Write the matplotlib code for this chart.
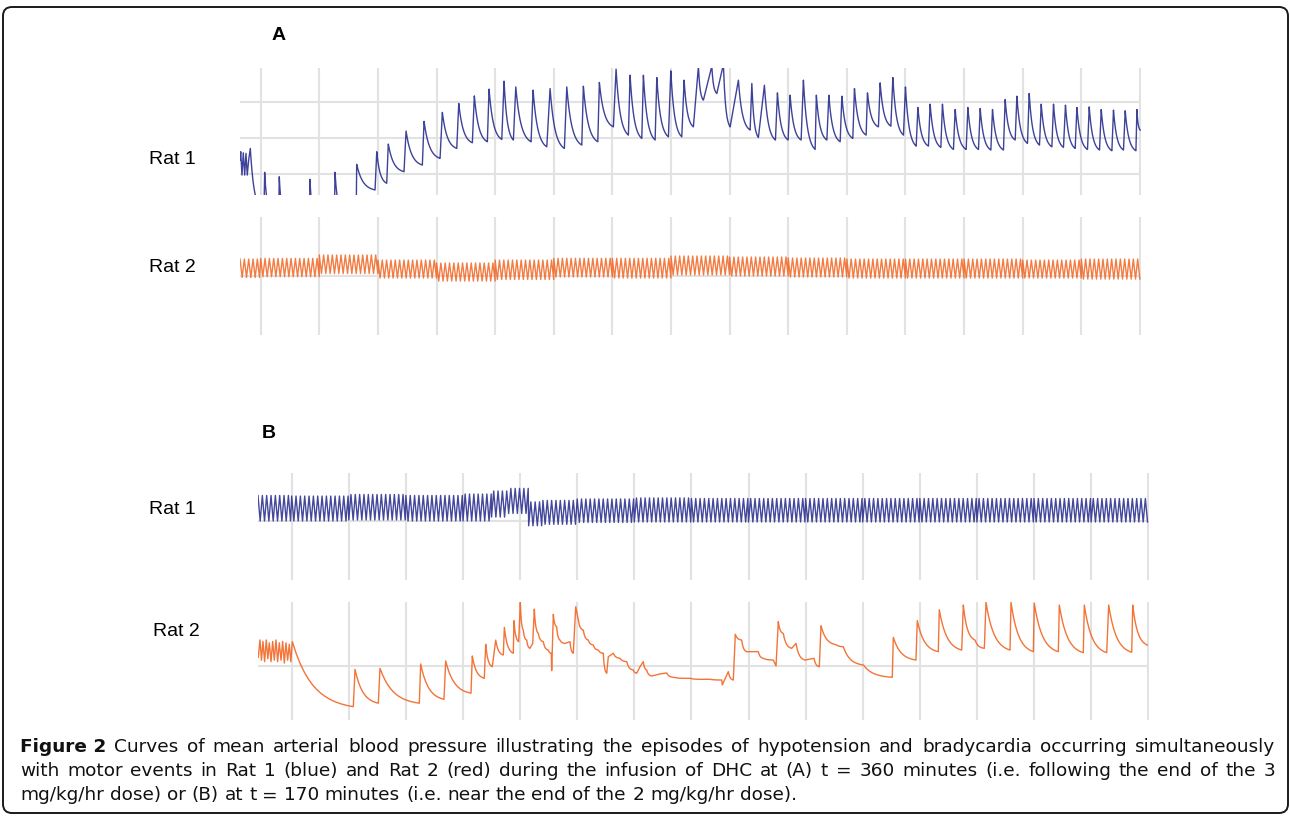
import numpy as np
import matplotlib.pyplot as plt
from matplotlib.patches import FancyBboxPatch

# ---- panel A, rat 1: key points of the pressure trace (time s, MAP mmHg)
a_rat1_time = [-3.53, -3.41, -3.19, -2.97, -2.73, -2.51, -2.29, -2.05, -1.77, 0.22,
               0.56, 0.68, 1.71, 3.09, 3.17, 3.98, 8.33, 8.41, 9.10, 12.59, 12.68, 13.87,
               16.30, 16.38, 19.51, 19.80, 21.50, 21.77, 24.45, 24.80, 27.58, 27.87, 30.60,
               30.99, 33.45, 33.79, 36.11, 36.45, 38.67, 38.96, 41.13, 41.52, 43.11, 43.52,
               46.13, 46.47, 48.81, 49.37, 51.81, 52.22, 54.78, 55.05, 57.51, 57.78, 60.17,
               60.63, 62.73, 63.02, 65.02, 65.29, 67.29, 67.58, 69.56, 69.97, 71.84, 72.24,
               73.82, 74.68, 75.53, 76.96, 77.82, 78.94, 80.09, 81.50, 83.50, 83.79, 84.91,
               85.94, 87.82, 88.16, 89.98, 90.32, 92.20, 92.59, 94.59, 94.80, 96.59, 96.93,
               98.86, 99.15, 101.02, 101.30, 103.29, 103.52, 105.39, 105.68, 107.51, 107.85,
               109.66, 110.00, 111.83, 112.12, 113.92, 114.21, 116.04, 116.31, 118.19, 118.48,
               120.36, 120.65, 122.46, 122.75, 124.57, 124.85, 126.72, 127.01, 128.72, 129.01,
               130.82, 131.11, 132.87, 133.16, 134.98, 135.26, 136.96, 137.30, 138.96, 139.25,
               141.06, 141.35, 143.11, 143.40, 145.22, 145.49, 147.20, 147.49, 149.32, 149.49,
               150.05]
a_rat1_map = [59.7, 65.4, 49.3, 64.7, 49.3, 64.3, 49.3, 59.7, 67.7, 25.2,
              25.2, 51.2, 25.2, 25.2, 48.1, 25.2, 25.2, 46.3, 25.2, 25.2, 51.2, 25.2,
              25.2, 56.7, 39.0, 65.4, 43.6, 70.7, 51.6, 79.7, 56.2, 86.4, 60.8,
              92.6, 67.7, 98.8, 71.6, 104.0, 72.3, 108.7, 73.9, 114.2, 73.5, 110.2,
              72.3, 108.0, 68.8, 109.1, 67.7, 110.2, 70.0, 110.7, 72.3, 113.3, 82.6,
              122.5, 76.9, 118.3, 74.6, 118.3, 73.5, 116.7, 75.7, 121.3, 75.7, 114.9,
              82.6, 124.5, 101.1, 124.5, 105.7, 125.9, 82.6, 114.9, 80.4, 112.6, 75.3,
              111.4, 73.5, 106.1, 73.5, 104.5, 73.5, 114.9, 67.0, 104.5, 73.5, 104.5,
              72.3, 103.8, 74.6, 109.1, 76.9, 106.1, 82.6, 113.0, 83.1, 116.7,
              76.9, 110.2, 69.3, 96.0, 69.3, 98.3, 68.4, 98.3, 67.0, 94.6,
              67.0, 96.0, 67.0, 95.3, 66.6, 94.6, 66.6, 101.5, 73.5, 103.8,
              71.2, 105.7, 70.0, 98.3, 68.8, 98.3, 68.4, 97.6, 67.7, 96.0,
              67.0, 96.4, 66.6, 94.6, 66.1, 94.2, 66.6, 93.7, 66.1, 94.6,
              80.4]

# ---- panel A, rat 2: envelope of the fast oscillation per time block
a_rat2_blocks = [-3.53, 0, 10, 20, 30, 40, 50, 60, 70, 80, 90, 100, 110, 120, 130, 140, 150.1]
a_rat2_top = [71.7, 72.1, 74.5, 71.0, 69.0, 71.0, 72.2, 72.2, 73.8, 73.1, 72.4, 71.7, 71.7,
              71.7, 71.0, 71.7]
a_rat2_bottom = [59.0, 59.5, 61.7, 58.6, 56.5, 57.6, 59.3, 58.6, 60.7, 60.0, 59.3, 58.6, 58.6,
                 58.6, 58.6, 57.9]

# ---- panel B, rat 1: envelope of the fast oscillation per time block
b_rat1_blocks = [-5.9, 0, 10, 20, 30, 35, 38, 41.5, 44, 50, 60, 70, 80, 90, 100, 110, 120,
                 130, 140, 150.1]
b_rat1_top = [97.4, 97.0, 98.1, 97.4, 98.4, 100.5, 102.3, 93.0, 94.0, 95.0, 95.7, 95.3, 95.3,
              95.3, 95.3, 95.3, 95.3, 95.3, 95.3]
b_rat1_bottom = [79.8, 79.8, 80.5, 79.8, 79.8, 82.5, 85.0, 76.5, 77.5, 78.8, 79.1, 79.1, 79.1,
                 79.1, 79.1, 79.1, 79.1, 79.1, 79.1]

# ---- panel B, rat 2: key points of the pressure trace
b_rat2_time = [-5.85, -5.55, -5.29, -5.03, -4.74, -4.45, -4.18, -3.92, -3.62, -3.33, -3.04,
               -2.75, -2.46, -2.17, -1.87, -1.58, -1.29, -1.00, -0.71, -0.42, -0.15, 0.11,
               10.79, 11.09, 15.17, 15.46, 22.35, 22.59, 26.67, 26.97, 31.40, 31.63,
               33.73, 33.98, 35.13, 35.73, 37.06, 37.24, 38.81, 38.93, 39.75, 40.04,
               40.56, 41.16, 41.73, 42.21, 42.49,
               43.19, 44.06, 44.94, 45.46, 45.53, 45.64, 45.82,
               46.41, 46.99, 47.86, 48.74, 49.32, 49.74,
               50.19, 51.07, 51.94, 52.82, 53.69, 54.57, 55.17, 55.45, 56.32, 57.50, 58.67,
               59.82, 60.42, 61.00, 61.58, 62.17, 63.05, 64.50, 65.67, 66.83, 68.58, 69.75,
               71.50, 73.26, 75.31, 75.41, 76.46, 77.34, 77.69, 78.81, 79.68, 81.72, 82.59,
               84.34, 84.82,
               85.22, 86.09, 87.57, 88.32, 89.89, 91.47, 92.40, 92.70, 95.45, 96.60, 100.11,
               105.18,
               105.36, 109.33, 109.56, 113.24, 113.41, 117.34, 117.62, 119.67, 121.30, 121.59,
               125.80, 125.97, 129.88, 130.05, 134.26, 134.43, 138.63, 138.81, 142.73, 143.08,
               147.11, 147.29, 149.84]
b_rat2_map = [66, 78, 64, 77, 63, 78, 65, 76, 63, 77, 64,
              78, 63, 76, 64, 77, 62, 76, 64, 75, 63, 76.8,
              31.9, 57.7, 34.3, 58.4, 34.3, 61.4, 37.0, 63.5, 41.2, 66.9,
              51.5, 75.0, 59.5, 77.9, 67.6, 86.7, 68.8, 91.3, 76.8, 104.0,
              84.8, 77.9, 72.2, 75.6, 99.3,
              82.5, 76.8, 71.0, 68.8, 56.8, 71.0, 95.7,
              87.1, 77.9, 75.6, 76.8, 68.8, 100.9,
              91.7, 84.8, 77.9, 74.5, 71.0, 68.8, 55.0, 66.4, 68.8, 65.3, 63.0,
              57.2, 55.0, 59.5, 63.0, 57.2, 53.1, 54.5, 55.2, 52.2, 51.5, 51.5,
              50.8, 50.8, 50.3, 46.9, 56.1, 50.3, 81.9, 77.9, 69.9, 69.9, 65.3,
              64.1, 60.0,
              90.6, 82.5, 72.2, 75.6, 64.1, 65.3, 59.5, 87.8, 74.5, 73.3, 60.7,
              52.2,
              79.8, 64.1, 91.3, 69.9, 98.8, 71.0, 102.1, 77.9, 72.2, 104.0,
              71.0, 104.0, 69.9, 103.3, 69.9, 102.1, 69.2, 102.1, 69.2, 102.1,
              69.5, 102.1, 74.5]

grid_times = np.arange(0, 151, 10)

caption_lines = [
    [("Figure 2", "bold"), ("Curves of mean arterial blood pressure illustrating the episodes "
     "of hypotension and bradycardia occurring simultaneously", "normal")],
    [("with motor events in Rat 1 (blue) and Rat 2 (red) during the infusion of DHC at (A) "
      "t = 360 minutes (i.e. following the end of the 3", "normal")],
    [("mg/kg/hr dose) or (B) at t = 170 minutes (i.e. near the end of the 2 mg/kg/hr dose).",
      "normal")],
]

BLUE = "#23288a"
ORANGE = "#f26522"


def pulse_path(t, p):
    # rises drawn straight, decays drawn as a run-off curve
    xs, ys = [t[0]], [p[0]]
    for i in range(len(t) - 1):
        t0, t1, p0, p1 = t[i], t[i + 1], p[i], p[i + 1]
        if p1 < p0 and t1 - t0 > 0.5:
            u = np.linspace(0, 1, 16)[1:]
            shape = (np.exp(-3.0 * u) - np.exp(-3.0)) / (1 - np.exp(-3.0))
            xs.extend(t0 + (t1 - t0) * u)
            ys.extend(p1 + (p0 - p1) * shape)
        else:
            xs.append(t1)
            ys.append(p1)
    return xs, ys


def oscillation_path(blocks, tops, bottoms, period):
    xs, ys = [], []
    k = 0
    for i in range(len(tops)):
        for tt in np.arange(blocks[i], blocks[i + 1], period / 2):
            xs.append(tt)
            ys.append(tops[i] if k % 2 == 0 else bottoms[i])
            k += 1
    return xs, ys


fig = plt.figure(figsize=(12.9, 8.16), dpi=100)
W, H = 1290, 816

over = fig.add_axes([0, 0, 1, 1], zorder=0)
over.set_xlim(0, W)
over.set_ylim(H, 0)
over.axis("off")


def trace_axes(left, top, right, bottom, xlim, ylim, yticks):
    ax = fig.add_axes([left / W, 1 - bottom / H, (right - left) / W, (bottom - top) / H],
                      zorder=1)
    ax.set_xlim(xlim)
    ax.set_ylim(ylim)
    ax.set_xticks(grid_times)
    ax.set_yticks(yticks)
    ax.grid(True, color="#e2e2e2", linewidth=1.5)
    ax.set_axisbelow(True)
    ax.tick_params(length=0, labelbottom=False, labelleft=False)
    for s in ax.spines.values():
        s.set_visible(False)
    ax.patch.set_alpha(0)
    return ax


ax1 = trace_axes(240, 68, 1140.5, 195, (-3.53, 150.1), (35.5, 123.3), [50, 75, 100])
x, y = pulse_path(a_rat1_time, a_rat1_map)
ax1.plot(x, y, color=BLUE, lw=1.0, alpha=0.88)

ax2 = trace_axes(240, 217, 1140.5, 335, (-3.53, 150.1), (19.3, 100.7), [60])
x, y = oscillation_path(a_rat2_blocks, a_rat2_top, a_rat2_bottom, 0.74)
ax2.plot(x, y, color=ORANGE, lw=1.0, alpha=0.85)

ax3 = trace_axes(258, 473, 1148.5, 580, (-5.9, 150.05), (39.1, 112.9), [80])
x, y = oscillation_path(b_rat1_blocks, b_rat1_top, b_rat1_bottom, 0.76)
ax3.plot(x, y, color=BLUE, lw=1.0, alpha=0.85)

ax4 = trace_axes(258, 602, 1148.5, 720, (-5.9, 150.05), (22.7, 104.2), [60])
x, y = pulse_path(b_rat2_time, b_rat2_map)
ax4.plot(x, y, color=ORANGE, lw=1.0, alpha=0.9)

# panel letters and row labels
lab = dict(family="Liberation Sans", fontsize=14, va="center")
over.text(279, 35, "A", fontweight="bold", ha="center", **lab)
over.text(269, 434, "B", fontweight="bold", ha="center", **lab)
over.text(149, 160, "Rat 1", ha="left", **lab)
over.text(149, 267, "Rat 2", ha="left", **lab)
over.text(149, 510, "Rat 1", ha="left", **lab)
over.text(153, 631, "Rat 2", ha="left", **lab)

# frame around the figure
over.add_patch(FancyBboxPatch((3, 7), 1285, 806, boxstyle="round,pad=0,rounding_size=9",
                              fill=False, ec="#1a1a1a", lw=1.4))

# caption, lines 1-2 justified
CAP = 13.3
cap_left, cap_right = 20, 1275
renderer = fig.canvas.get_renderer()


def width(s, weight="normal"):
    t = over.text(0, 0, s, fontsize=CAP, fontweight=weight, family="DejaVu Sans")
    w = t.get_window_extent(renderer).width
    t.remove()
    return w


space = width("a a") - width("aa")
for row, (parts, ybase) in enumerate(zip(caption_lines, [751.5, 776, 800.5])):
    words = []
    for txt, wt in parts:
        if wt == "bold":
            words.append((txt, wt))
        else:
            words.extend((w, wt) for w in txt.split())
    arts = [over.text(0, ybase, w, fontsize=CAP, fontweight=wt, family="DejaVu Sans",
                      va="baseline", color="#111111") for w, wt in words]
    ws = [a.get_window_extent(renderer).width for a in arts]
    gap = (cap_right - cap_left - sum(ws)) / (len(ws) - 1) if row < 2 else space
    xpos = cap_left
    for a, w in zip(arts, ws):
        a.set_x(xpos)
        xpos += w + gap

fig.savefig("out.png", dpi=100)
